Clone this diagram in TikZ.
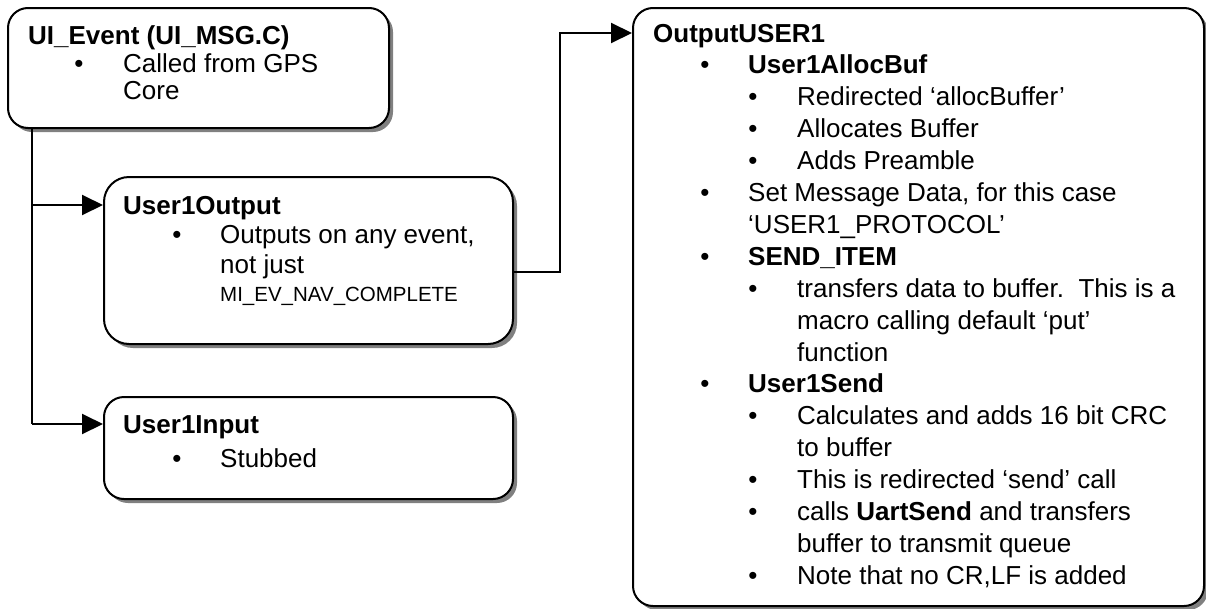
\documentclass[tikz,border=0pt]{standalone}
\usepackage{fontspec}
\setmainfont{Liberation Sans}
\usetikzlibrary{arrows.meta,shadows}

\tikzset{
  box/.style={draw=black, line width=2pt, fill=white, rounded corners=20pt,
    anchor=north west, inner sep=0pt,
    drop shadow={shadow xshift=4pt, shadow yshift=-4pt, fill=black!50, opacity=1}},
  wire/.style={draw=black, line width=2pt},
  arr/.style={wire, -{Triangle[length=21pt,width=20pt]}},
  txt/.style={anchor=base west, inner sep=0pt, font=\fontsize{26}{30}\selectfont},
  dot/.style={anchor=base, inner sep=0pt, font=\fontsize{26}{30}\selectfont},
  small/.style={anchor=base west, inner sep=0pt, font=\fontsize{20.5}{24}\selectfont},
}

% one text line: name, x, y of line middle, text
\newcommand\tl[4]{\node[txt] (#1) at (#2,#3+9) {#4};}
% one bullet: name, x, y of line middle
\newcommand\bl[3]{\node[dot] (#1) at (#2,#3+9) {•};}
% line y inside the big box
\newcommand\ry[1]{33+31.9*#1}

\begin{document}
\begin{tikzpicture}[x=1pt,y=-1pt]
\useasboundingbox (0,0) rectangle (1206,608);

% boxes
\node[box, minimum width=381pt, minimum height=120pt] (ev)   at (7,7) {};
\node[box, minimum width=409pt, minimum height=167pt, rounded corners=25pt] (outn) at (103,176) {};
\node[box, minimum width=409pt, minimum height=102pt] (inp)  at (103,396) {};
\node[box, minimum width=571pt, minimum height=598pt] (big)  at (632,7) {};

% connectors
\coordinate (j1) at (32,205);
\coordinate (j2) at (32,424);
\coordinate (j3) at (560,272);
\coordinate (j4) at (560,33);
\draw[wire] (32,0 |- ev.south) -- (j2);
\draw[arr] (j1) -- (j1 -| outn.west);
\draw[arr] (j2) -- (j2 -| inp.west);
\draw[arr] (j3 -| outn.east) -- (j3) -- (j4) -- (j4 -| big.west);

% UI_Event
\tl{a1}{28}{35}{\textbf{UI\_Event (UI\_MSG.C)}}
\bl{ab1}{79}{63}
\tl{a2}{123}{63}{Called from GPS}
\tl{a3}{123}{90}{Core}

% User1Output
\tl{b1}{123}{205}{\textbf{User1Output}}
\bl{bb1}{177}{234}
\tl{b2}{220}{234}{Outputs on any event,}
\tl{b3}{220}{264}{not just}
\node[small] (b4) at (220,294+7) {MI\_EV\_NAV\_COMPLETE};

% User1Input
\tl{c1}{123}{424}{\textbf{User1Input}}
\bl{cb1}{177}{458}
\tl{c2}{220}{458}{Stubbed}

% OutputUSER1
\tl{d0}{653}{\ry{0}}{\textbf{OutputUSER1}}
\bl{db1}{705}{\ry{1}}   \tl{d1}{748}{\ry{1}}{\textbf{User1AllocBuf}}
\bl{db2}{753}{\ry{2}}   \tl{d2}{797}{\ry{2}}{Redirected ‘allocBuffer’}
\bl{db3}{753}{\ry{3}}   \tl{d3}{797}{\ry{3}}{Allocates Buffer}
\bl{db4}{753}{\ry{4}}   \tl{d4}{797}{\ry{4}}{Adds Preamble}
\bl{db5}{705}{\ry{5}}   \tl{d5}{748}{\ry{5}}{Set Message Data, for this case}
                        \tl{d6}{748}{\ry{6}}{‘USER1\_PROTOCOL’}
\bl{db7}{705}{\ry{7}}   \tl{d7}{748}{\ry{7}}{\textbf{SEND\_ITEM}}
\bl{db8}{753}{\ry{8}}   \tl{d8}{797}{\ry{8}}{transfers data to buffer.\ \ This is a}
                        \tl{d9}{797}{\ry{9}}{macro calling default ‘put’}
                        \tl{d10}{797}{\ry{10}}{function}
\bl{db11}{705}{\ry{11}} \tl{d11}{748}{\ry{11}}{\textbf{User1Send}}
\bl{db12}{753}{\ry{12}} \tl{d12}{797}{\ry{12}}{Calculates and adds 16 bit CRC}
                        \tl{d13}{797}{\ry{13}}{to buffer}
\bl{db14}{753}{\ry{14}} \tl{d14}{797}{\ry{14}}{This is redirected ‘send’ call}
\bl{db15}{753}{\ry{15}} \tl{d15}{797}{\ry{15}}{calls \textbf{UartSend} and transfers}
                        \tl{d16}{797}{\ry{16}}{buffer to transmit queue}
\bl{db17}{753}{\ry{17}} \tl{d17}{797}{\ry{17}}{Note that no CR,LF is added}
\end{tikzpicture}
\end{document}
